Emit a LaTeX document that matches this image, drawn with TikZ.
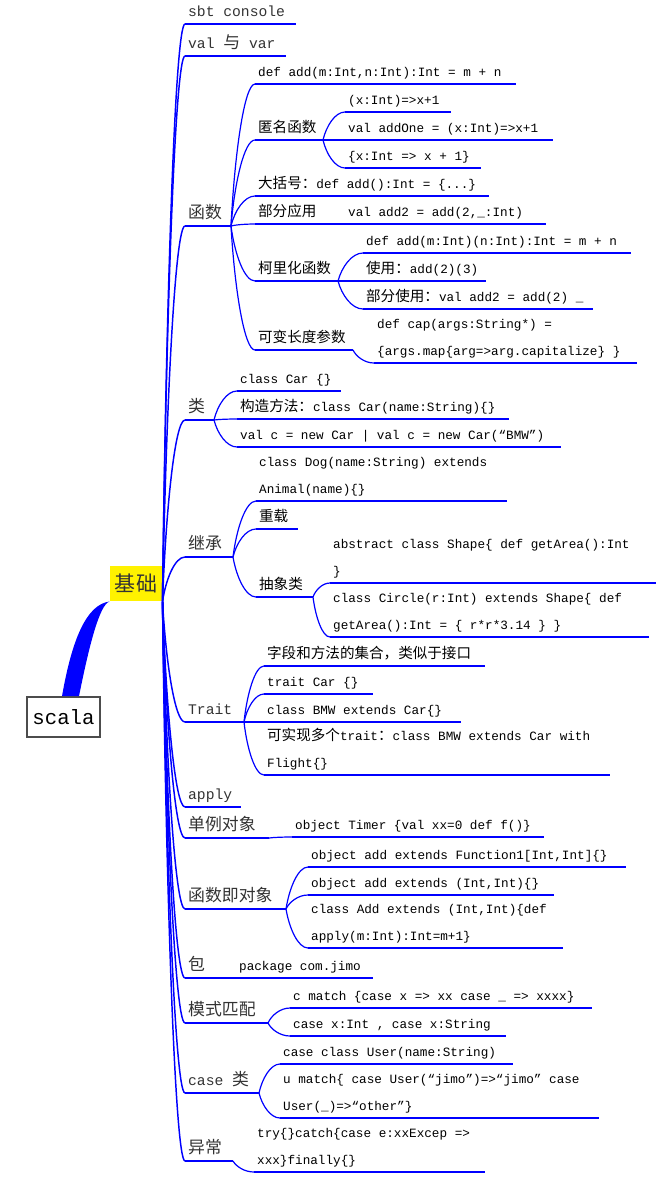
\documentclass[tikz,border=0pt]{standalone}
\usepackage{fontspec}
\setmonofont{Liberation Mono}
\newfontfamily\cjk[Scale=1.15]{Noto Sans CJK SC}
\newcommand\zh[1]{{\cjk #1}}
\protected\def\monotext{\ttfamily\frenchspacing}
\usetikzlibrary{calc}

\tikzset{every picture/.style={line width=0.75pt}}
\tikzset{
  ln1/.style={blue, line width=1.1pt},
  ln2/.style={blue, line width=0.9pt},
  mmcurve/.style={to path={let \p1=(\tikztostart), \p2=(\tikztotarget) in
    .. controls ({0.85*\x1+0.15*\x2},{0.5*\y1+0.5*\y2}) and ({0.45*\x1+0.55*\x2},\y2) .. (\tikztotarget)}},
  br1/.style={ln1, mmcurve},
  br2/.style={ln2, mmcurve},
  ulen/.style={/utils/exec={\pgfmathsetlengthmacro\tpw{#1*0.75pt-4pt}}, text width=\tpw},
  topic/.style={anchor=south west, inner xsep=2pt, inner ysep=3pt, align=flush left,
    execute at begin node={\spaceskip=0.6em\relax\xspaceskip=0.6em\relax},
    execute at end node={\vrule width 0pt height 0pt depth 2.4pt}},
  t1/.style={topic, ulen=#1, text=black!80, font=\fontsize{11}{14}\monotext,
    append after command={(\tikzlastnode.south west) edge[ln1] (\tikzlastnode.south east)}},
  t2/.style={topic, ulen=#1, font=\fontsize{9.5}{19.8}\monotext,
    append after command={(\tikzlastnode.south west) edge[ln2] (\tikzlastnode.south east)}},
}

\begin{document}
\begin{tikzpicture}[x=0.75pt,y=0.75pt,yscale=-1,xscale=1]
\useasboundingbox (0,0) rectangle (665,1179);

% Root Node
\node (scala) at (63.5,717) [draw=black!70, line width=1.2pt, fill=white, minimum width=54.75pt, minimum height=30pt, inner sep=0pt, font=\ttfamily\fontsize{15.5}{18}\selectfont] {scala};
% Main Topic
\node (jc) at (136,583.5) [fill=yellow, minimum width=39pt, minimum height=26.25pt, inner sep=0pt, text=black!80, font=\cjk\fontsize{13.7}{16}\selectfont] {基础};
%Shape: thick connector
\fill[blue] ($(scala.north)+(-1.5,0)$) .. controls +(10,-57) and +(-23,3) .. (jc.south west) .. controls +(-10,3) and +(10,-50) .. ($(scala.north)+(15.5,0)$) -- cycle;

% Text Node: first level
\node (sbt) at (185,24) [t1=110] {sbt console};
\node (vv) at (185,56) [t1=100] {val \zh{与} var};
\node (fn) at (185,226) [t1=45] {\zh{函数}};
\node (cls) at (185,420) [t1=28] {\zh{类}};
\node (inh) at (185,557) [t1=47] {\zh{继承}};
\node (trt) at (185,722) [t1=58] {Trait};
\node (app) at (185,807) [t1=55] {apply};
\node (obj) at (185,838) [t1=83] {\zh{单例对象}};
\node (fo) at (185,909) [t1=100] {\zh{函数即对象}};
\node (pkg) at (185,978) [t1=40] {\zh{包}};
\node (pm) at (185,1023) [t1=82] {\zh{模式匹配}};
\node (cc) at (185,1093) [t1=73] {case \zh{类}};
\node (exc) at (185,1161) [t1=47] {\zh{异常}};

% Text Node: 函数
\node (f1) at (255,84) [t2=260] {def add(m:Int,n:Int):Int = m + n};
\node (f2) at (255,140) [t2=67] {\zh{匿名函数}};
\node (f21) at (345,112) [t2=105] {(x:Int)=>x+1};
\node (f22) at (345,140) [t2=207] {val addOne = (x:Int)=>x+1};
\node (f23) at (345,168) [t2=135] {\{x:Int => x + 1\}};
\node (f3) at (255,196) [t2=233] {\zh{大括号：}def add():Int = \{...\}};
\node (f4) at (255,224) [t2=85] {\zh{部分应用}};
\node (f41) at (345,224) [t2=200] {val add2 = add(2,\_:Int)};
\node (f5) at (255,281) [t2=82] {\zh{柯里化函数}};
\node (f51) at (363,253) [t2=267] {def add(m:Int)(n:Int):Int = m + n};
\node (f52) at (363,281) [t2=122] {\zh{使用：}add(2)(3)};
\node (f53) at (363,309) [t2=229] {\zh{部分使用：}val add2 = add(2) \_};
\node (f6) at (255,350) [t2=97] {\zh{可变长度参数}};
\node (f61) at (374,363) [t2=262] {def cap(args:String*) =\\\{args.map\{arg=>arg.capitalize\} \}};

% Text Node: 类, 继承
\node (c1) at (237,391) [t2=103] {class Car \{\}};
\node (c2) at (237,419) [t2=271] {\zh{构造方法：}class Car(name:String)\{\}};
\node (c3) at (237,447) [t2=323] {val c = new Car | val c = new Car(“BMW”)};
\node (i1) at (256,501) [t2=250] {class Dog(name:String) extends\\Animal(name)\{\}};
\node (i2) at (256,529) [t2=41] {\zh{重载}};
\node (i3) at (256,597) [t2=56] {\zh{抽象类}};
\node (i31) at (330,583) [t2=325] {abstract class Shape\{ def getArea():Int\\\}};
\node (i32) at (330,637) [t2=318] {class Circle(r:Int) extends Shape\{ def\\getArea():Int = \{ r*r*3.14 \} \}};

% Text Node: Trait
\node (t1) at (264,666) [t2=220] {\zh{字段和方法的集合，类似于接口}};
\node (t2) at (264,694) [t2=108] {trait Car \{\}};
\node (t3) at (264,722) [t2=196] {class BMW extends Car\{\}};
\node (t4) at (264,775) [t2=345] {\zh{可实现多个}trait\zh{：}class BMW extends Car with\\Flight\{\}};

% Text Node: 对象, 包
\node (o0) at (292,837) [t2=251] {object Timer \{val xx=0 def f()\}};
\node (o1) at (308,867) [t2=317] {object add extends Function1[Int,Int]\{\}};
\node (o2) at (308,895) [t2=245] {object add extends (Int,Int)\{\}};
\node (o3) at (308,948) [t2=254] {class Add extends (Int,Int)\{def\\apply(m:Int):Int=m+1\}};
\node (k0) at (236,978) [t2=136] {package com.jimo};

% Text Node: 模式匹配, case 类, 异常
\node (p1) at (290,1008) [t2=301] {c match \{case x => xx case \_ => xxxx\}};
\node (p2) at (290,1036) [t2=215] {case x:Int , case x:String};
\node (k1) at (280,1064) [t2=232] {case class User(name:String)};
\node (k2) at (280,1118) [t2=318] {u match\{ case User(“jimo”)=>“jimo” case\\User(\_)=>“other”\}};
\node (e1) at (254,1172) [t2=230] {try\{\}catch\{case e:xxExcep =>\\xxx\}finally\{\}};

%Curve Lines: first level
\draw[br1] (jc.south east) to (sbt.south west);
\draw[br1] (jc.south east) to (vv.south west);
\draw[br1] (jc.south east) to (fn.south west);
\draw[br1] (jc.south east) to (cls.south west);
\draw[br1] (jc.south east) to (inh.south west);
\draw[br1] (jc.south east) to (trt.south west);
\draw[br1] (jc.south east) to (app.south west);
\draw[br1] (jc.south east) to (obj.south west);
\draw[br1] (jc.south east) to (fo.south west);
\draw[br1] (jc.south east) to (pkg.south west);
\draw[br1] (jc.south east) to (pm.south west);
\draw[br1] (jc.south east) to (cc.south west);
\draw[br1] (jc.south east) to (exc.south west);

%Curve Lines: second level
\draw[br2] (fn.south east) to (f1.south west);
\draw[br2] (fn.south east) to (f2.south west);
\draw[br2] (fn.south east) to (f3.south west);
\draw[br2] (fn.south east) to (f4.south west);
\draw[br2] (fn.south east) to (f5.south west);
\draw[br2] (fn.south east) to (f6.south west);
\draw[br2] (f2.south east) to (f21.south west);
\draw[br2] (f2.south east) to (f22.south west);
\draw[br2] (f2.south east) to (f23.south west);
\draw[br2] (f4.south east) to (f41.south west);
\draw[br2] (f5.south east) to (f51.south west);
\draw[br2] (f5.south east) to (f52.south west);
\draw[br2] (f5.south east) to (f53.south west);
\draw[br2] (f6.south east) to (f61.south west);
\draw[br2] (cls.south east) to (c1.south west);
\draw[br2] (cls.south east) to (c2.south west);
\draw[br2] (cls.south east) to (c3.south west);
\draw[br2] (inh.south east) to (i1.south west);
\draw[br2] (inh.south east) to (i2.south west);
\draw[br2] (inh.south east) to (i3.south west);
\draw[br2] (i3.south east) to (i31.south west);
\draw[br2] (i3.south east) to (i32.south west);
\draw[br2] (trt.south east) to (t1.south west);
\draw[br2] (trt.south east) to (t2.south west);
\draw[br2] (trt.south east) to (t3.south west);
\draw[br2] (trt.south east) to (t4.south west);
\draw[br2] (obj.south east) to (o0.south west);
\draw[br2] (fo.south east) to (o1.south west);
\draw[br2] (fo.south east) to (o2.south west);
\draw[br2] (fo.south east) to (o3.south west);
\draw[br2] (pkg.south east) to (k0.south west);
\draw[br2] (pm.south east) to (p1.south west);
\draw[br2] (pm.south east) to (p2.south west);
\draw[br2] (cc.south east) to (k1.south west);
\draw[br2] (cc.south east) to (k2.south west);
\draw[br2] (exc.south east) to (e1.south west);

\end{tikzpicture}
\end{document}
